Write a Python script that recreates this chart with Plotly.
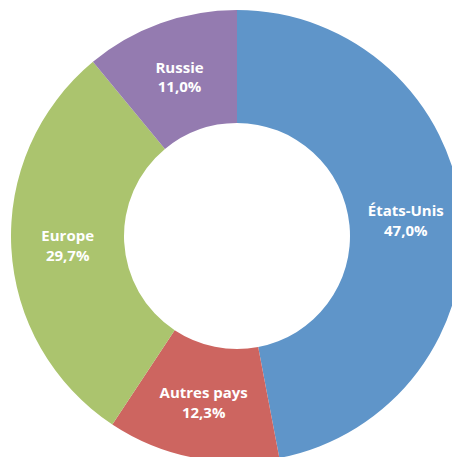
import plotly.graph_objects as go

labels = ["États-Unis", "Autres pays", "Europe", "Russie"]
values = [47.0, 12.3, 29.7, 11.0]
colors = ["#5F95C9", "#CD6560", "#ABC46E", "#947BB0"]

W, H = 474, 472
cx, cy, r = 237, 236, 226

fig = go.Figure(go.Pie(
    labels=labels,
    values=values,
    hole=0.5,
    sort=False,
    direction="clockwise",
    rotation=0,
    marker=dict(colors=colors, line=dict(color="white", width=0)),
    texttemplate="<b>%{label}</b><br><b>%{value:.1f}%</b>",
    textposition="inside",
    insidetextorientation="horizontal",
    textfont=dict(family="Open Sans", size=15, color="white"),
    showlegend=False,
    domain=dict(x=[(cx - r) / W, (cx + r) / W], y=[(H - cy - r) / H, (H - cy + r) / H]),
))

fig.update_layout(
    width=W, height=H,
    margin=dict(l=0, r=0, t=0, b=0),
    paper_bgcolor="white",
    separators=", ",
)

fig.write_html("out.html", config={"displayModeBar": False},
               post_script="document.body.style.margin='0';document.body.style.overflow='hidden';")
